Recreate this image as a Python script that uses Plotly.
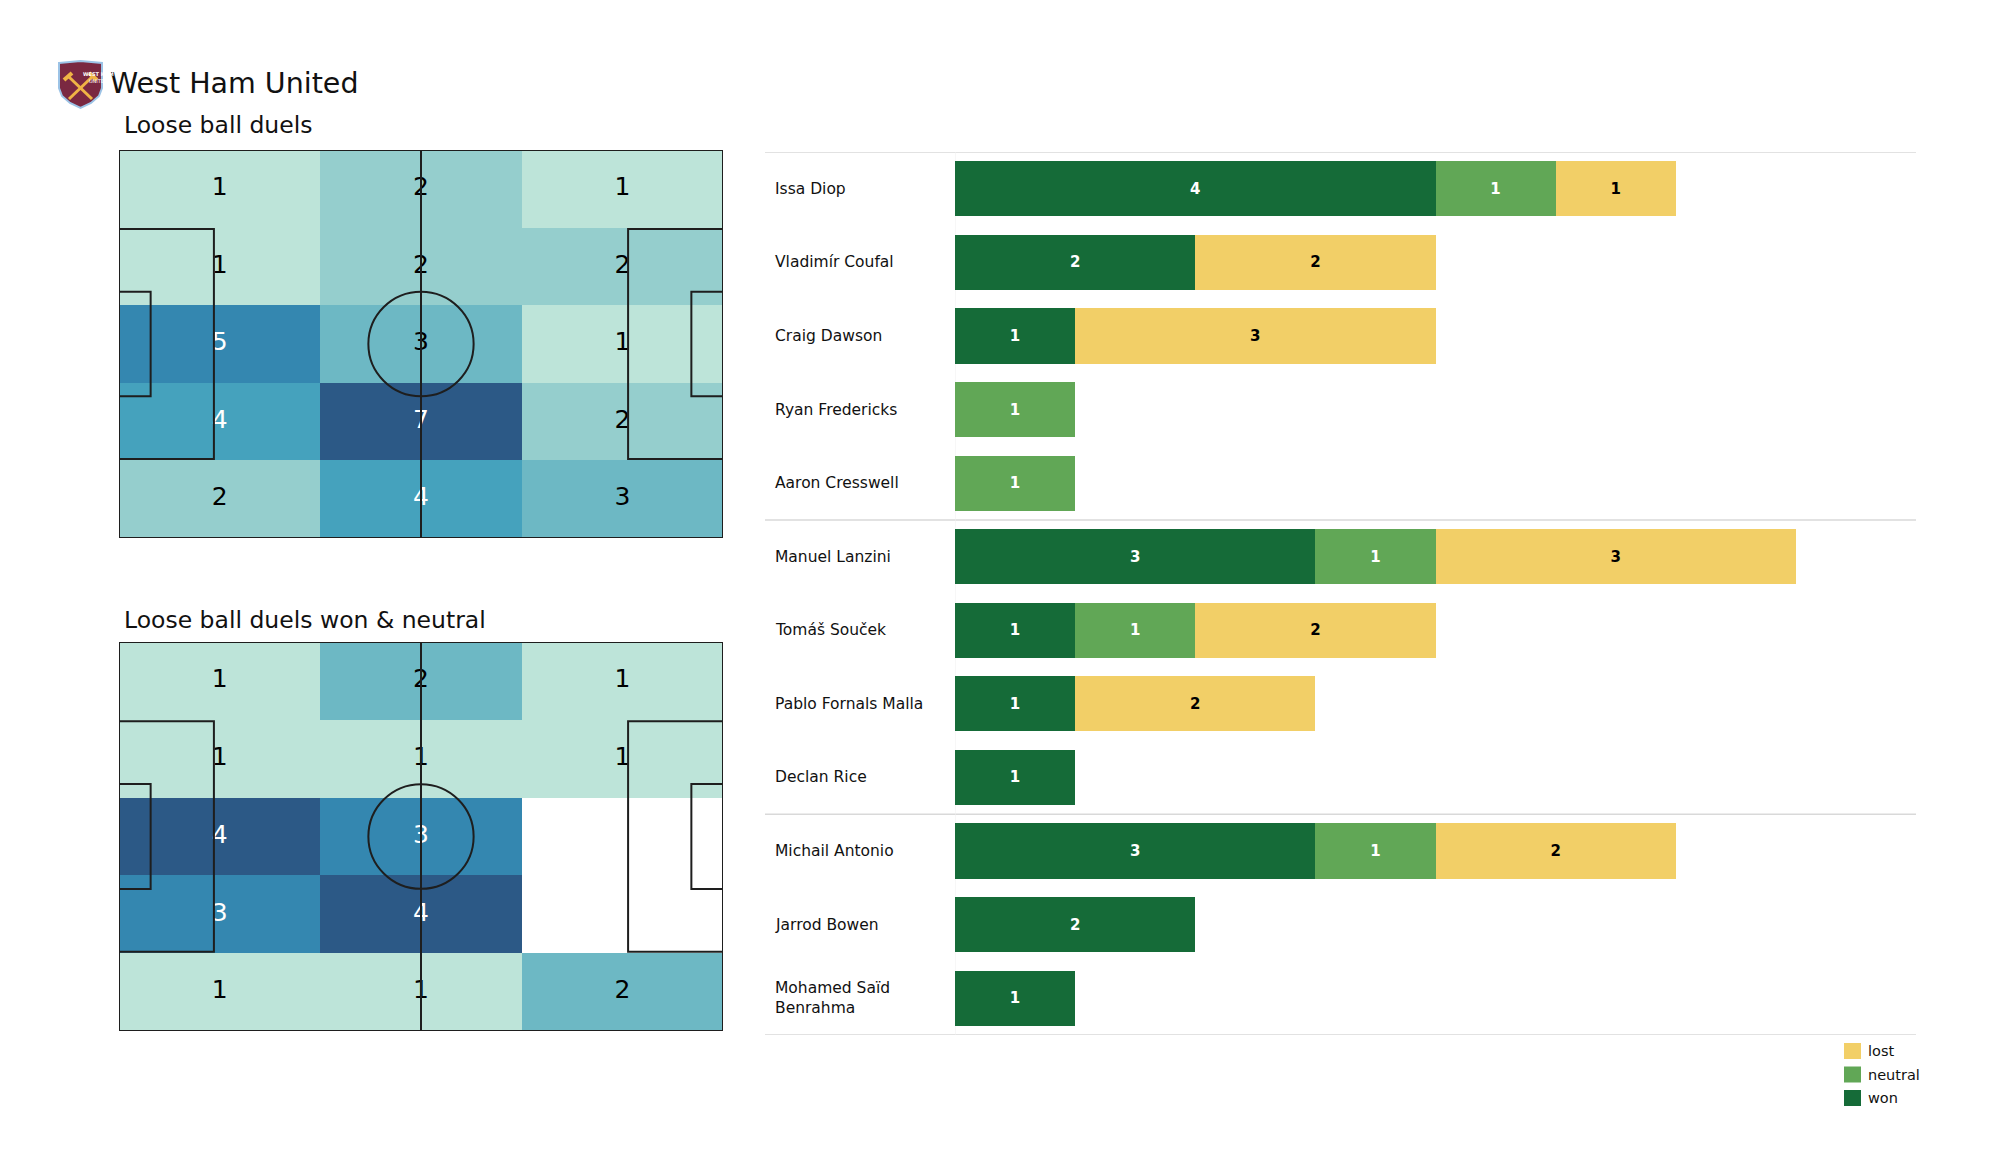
import numpy as np
import plotly.graph_objects as go

W, H = 2000, 1175

# ---------------- data ----------------
team = "West Ham United"
title_all = "Loose ball duels"
title_won = "Loose ball duels won & neutral"

# pitch grids (rows from top of pitch to bottom, 3 columns left->right)
duels_all = [
    [1, 2, 1],
    [1, 2, 2],
    [5, 3, 1],
    [4, 7, 2],
    [2, 4, 3],
]
duels_won_neutral = [
    [1, 2, 1],
    [1, 1, 1],
    [4, 3, 0],
    [3, 4, 0],
    [1, 1, 2],
]

players = [
    "Issa Diop", "Vladimír Coufal", "Craig Dawson", "Ryan Fredericks", "Aaron Cresswell",
    "Manuel Lanzini", "Tomáš Souček", "Pablo Fornals Malla", "Declan Rice",
    "Michail Antonio", "Jarrod Bowen", "Mohamed Saïd Benrahma",
]
won =     [4, 2, 1, 0, 0, 3, 1, 1, 1, 3, 2, 1]
neutral = [1, 0, 0, 1, 1, 1, 1, 0, 0, 1, 0, 0]
lost =    [1, 2, 3, 0, 0, 3, 2, 2, 0, 2, 0, 0]
group_breaks = [5, 9]  # separator after these many players
legend_labels = ["lost", "neutral", "won"]

# ---------------- style ----------------
FONT = "DejaVu Sans"
C_WON, C_NEU, C_LOST = "#156b38", "#61a756", "#f2cf67"
heat_cols = ["#ffffff", "#bde4d9", "#95cecd", "#6db8c4", "#45a2bd", "#3487b0", "#2c5986"]
cs = [[0, heat_cols[0]], [0.05, heat_cols[0]],
      [0.05, heat_cols[1]], [0.27, heat_cols[1]],
      [0.27, heat_cols[2]], [0.36, heat_cols[2]],
      [0.36, heat_cols[3]], [0.52, heat_cols[3]],
      [0.52, heat_cols[4]], [0.64, heat_cols[4]],
      [0.64, heat_cols[5]], [0.85, heat_cols[5]],
      [0.85, heat_cols[6]], [1, heat_cols[6]]]

def px_x(v):
    return v / W

def px_y(v):
    return 1 - v / H

fig = go.Figure()

PL, PW = 105.0, 68.0
xc = [PL / 6, PL / 2, PL * 5 / 6]
yc_top_down = [PW * (9 - 2 * i) / 10 for i in range(5)]

def add_pitch(grid, xa, ya):
    g = np.array(grid, dtype=float)
    mx = g.max()
    zn = g / mx
    fig.add_trace(go.Heatmap(
        x=xc, y=yc_top_down[::-1], z=zn[::-1].tolist(),
        zmin=0, zmax=1, colorscale=cs, showscale=False,
        hoverinfo="skip", xaxis=xa, yaxis=ya,
    ))
    tx, ty, tt, tc = [], [], [], []
    for i in range(5):
        for j in range(3):
            v = grid[i][j]
            tx.append(xc[j]); ty.append(yc_top_down[i])
            tt.append(str(v) if v else "")
            tc.append("white" if v / mx > 0.5 else "black")
    fig.add_trace(go.Scatter(
        x=tx, y=ty, text=tt, mode="text",
        textfont=dict(family=FONT, size=25, color=tc),
        hoverinfo="skip", showlegend=False, xaxis=xa, yaxis=ya,
    ))
    ln = dict(color="#1e1e1e", width=2)
    shapes = [
        dict(type="rect", x0=0, y0=0, x1=PL, y1=PW),
        dict(type="line", x0=PL / 2, y0=0, x1=PL / 2, y1=PW),
        dict(type="circle", x0=PL / 2 - 9.15, x1=PL / 2 + 9.15, y0=PW / 2 - 9.15, y1=PW / 2 + 9.15),
        dict(type="rect", x0=0, x1=16.5, y0=PW / 2 - 20.16, y1=PW / 2 + 20.16),
        dict(type="rect", x0=PL - 16.5, x1=PL, y0=PW / 2 - 20.16, y1=PW / 2 + 20.16),
        dict(type="rect", x0=0, x1=5.5, y0=PW / 2 - 9.16, y1=PW / 2 + 9.16),
        dict(type="rect", x0=PL - 5.5, x1=PL, y0=PW / 2 - 9.16, y1=PW / 2 + 9.16),
    ]
    for s in shapes:
        s.update(xref=xa, yref=ya, line=ln, fillcolor="rgba(0,0,0,0)", layer="above")
        fig.add_shape(**s)

add_pitch(duels_all, "x", "y")
add_pitch(duels_won_neutral, "x2", "y2")

# ---------------- bar chart ----------------
def nz(a):
    return [v if v else None for v in a]

series = [("won", won, C_WON, "white"),
          ("neutral", neutral, C_NEU, "white"),
          ("lost", lost, C_LOST, "black")]
for name, vals, col, tcol in series:
    fig.add_trace(go.Bar(
        y=players, x=nz(vals), orientation="h", name=name,
        marker=dict(color=col, line=dict(width=0)),
        text=[str(v) if v else "" for v in vals],
        textposition="inside", insidetextanchor="middle", textangle=0,
        insidetextfont=dict(family=FONT, size=15, color=tcol, weight="bold"),
        xaxis="x3", yaxis="y3", hoverinfo="skip", showlegend=False,
    ))

def wrap(n, lim=20):
    if len(n) <= lim:
        return n
    cut = n.rfind(" ", 0, lim)
    return n[:cut] + "<br>" + n[cut + 1:]

annotations = []
for p in players:
    annotations.append(dict(
        x=px_x(773), xref="paper", y=p, yref="y3", text=wrap(p),
        showarrow=False, xanchor="left", yanchor="middle", align="left",
        font=dict(family=FONT, size=15.5, color="#111"),
    ))

# separator lines
n = len(players)
for pos in [-0.5] + [b - 0.5 for b in group_breaks] + [n - 0.5]:
    fig.add_shape(type="line", xref="paper", yref="y3",
                  x0=px_x(765), x1=px_x(1916), y0=pos, y1=pos,
                  line=dict(color="#d9d9d9", width=1.5), layer="below")
fig.add_shape(type="line", xref="x3", yref="y3", x0=0, x1=0, y0=-0.5, y1=n - 0.5,
              line=dict(color="#f0f0f0", width=1), layer="below")

# legend (manual, matplotlib style)
leg_colors = {"won": C_WON, "neutral": C_NEU, "lost": C_LOST}
for k, lab in enumerate(legend_labels):
    cy = 1051 + k * 23.5
    fig.add_shape(type="rect", xref="paper", yref="paper",
                  x0=px_x(1844), x1=px_x(1861), y0=px_y(cy - 8), y1=px_y(cy + 8),
                  fillcolor=leg_colors[lab], line=dict(width=0))
    annotations.append(dict(x=px_x(1866), y=px_y(cy), xref="paper", yref="paper",
                            text=lab, showarrow=False, xanchor="left", yanchor="middle",
                            font=dict(family=FONT, size=14.5, color="#111")))

# titles
annotations += [
    dict(x=px_x(108), y=px_y(83), xref="paper", yref="paper", text=team, showarrow=False,
         xanchor="left", yanchor="middle", font=dict(family=FONT, size=28.5, color="#111")),
    dict(x=px_x(122), y=px_y(125), xref="paper", yref="paper", text=title_all, showarrow=False,
         xanchor="left", yanchor="middle", font=dict(family=FONT, size=23.5, color="#111")),
    dict(x=px_x(122), y=px_y(620), xref="paper", yref="paper", text=title_won, showarrow=False,
         xanchor="left", yanchor="middle", font=dict(family=FONT, size=23.5, color="#111")),
]

# crest (simple drawn shield)
def ppath(pts):
    return "M" + " L".join(f"{px_x(a):.5f},{px_y(b):.5f}" for a, b in pts) + " Z"

shield = [(59, 63), (80.5, 61), (102, 63), (102, 88), (99, 96), (91, 103), (80.5, 108),
          (70, 103), (62, 96), (59, 88)]
fig.add_shape(type="path", xref="paper", yref="paper", path=ppath(shield),
              fillcolor="#7a2841", line=dict(color="#9cc3e6", width=2))
for (a, b, c, d) in [(69, 77, 92, 99), (92, 77, 69, 99)]:
    fig.add_shape(type="line", xref="paper", yref="paper",
                  x0=px_x(a), y0=px_y(b), x1=px_x(c), y1=px_y(d),
                  line=dict(color="#f0b445", width=3))
for (a, b, c, d) in [(64, 80, 72, 73), (97, 80, 89, 73)]:
    fig.add_shape(type="line", xref="paper", yref="paper",
                  x0=px_x(a), y0=px_y(b), x1=px_x(c), y1=px_y(d),
                  line=dict(color="#f0b445", width=4))
annotations.append(dict(x=px_x(80.5), y=px_y(69), xref="paper", yref="paper",
                        text="<b>WEST HAM</b><br>UNITED", showarrow=False,
                        font=dict(family=FONT, size=5, color="white")))

ax_off = dict(visible=False, showgrid=False, zeroline=False, fixedrange=True)
fig.update_layout(
    width=W, height=H, margin=dict(l=0, r=0, t=0, b=0),
    paper_bgcolor="white", plot_bgcolor="rgba(0,0,0,0)",
    barmode="stack", bargap=0.25,
    xaxis=dict(domain=[px_x(119), px_x(723)], range=[0, PL], **ax_off),
    yaxis=dict(domain=[px_y(538), px_y(150)], range=[0, PW], **ax_off),
    xaxis2=dict(domain=[px_x(119), px_x(723)], range=[0, PL], **ax_off),
    yaxis2=dict(domain=[px_y(1031), px_y(642)], range=[0, PW], **ax_off),
    xaxis3=dict(domain=[px_x(955), px_x(1916)], range=[0, 8], **ax_off),
    yaxis3=dict(domain=[px_y(1035), px_y(152)], range=[n - 0.5, -0.5],
                categoryorder="array", categoryarray=players, type="category", **ax_off),
    annotations=annotations,
    showlegend=False,
    font=dict(family=FONT),
)

fig.write_html("out.html", config={"displayModeBar": False},
               post_script="document.body.style.margin='0px';")
